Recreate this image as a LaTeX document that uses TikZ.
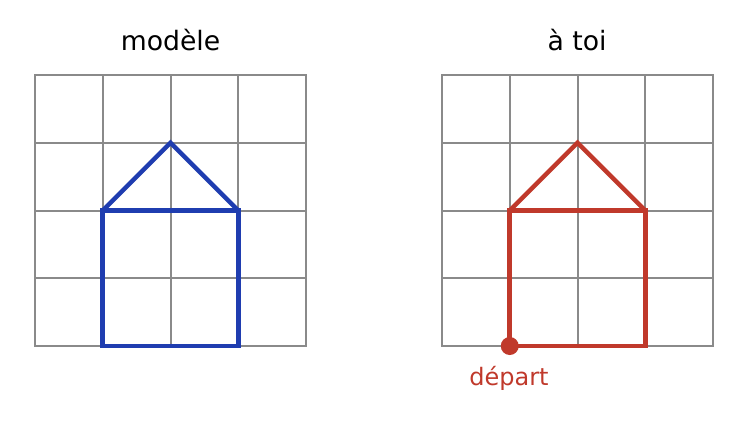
\documentclass[tikz,border=0pt]{standalone}
\usepackage{fontspec}
\setmainfont{DejaVu Sans}
\definecolor{gridgray}{HTML}{8A8A8A}
\definecolor{houseblue}{HTML}{1F3DB0}
\definecolor{housered}{HTML}{C0392B}
\begin{document}
\begin{tikzpicture}[x=0.75pt,y=-0.75pt,
  gridline/.style={draw=gridgray,line width=1.5pt,line cap=rect},
  bluehouse/.style={draw=houseblue,line width=3.4pt,line join=miter,line cap=butt},
  redhouse/.style={draw=housered,line width=3.4pt,line join=miter,line cap=butt},
  title/.style={font=\fontsize{20}{24}\selectfont,text=black},
  lbl/.style={font=\fontsize{18}{22}\selectfont,text=housered}]
\useasboundingbox (0,0) rectangle (747,422);
% grids
\foreach \ox in {35,442}{
  \foreach \i in {0,...,4}{
    \draw[gridline] (\ox+\i*67.75,75) -- (\ox+\i*67.75,346);
    \draw[gridline] (\ox,75+\i*67.75) -- (\ox+271,75+\i*67.75);
  }
}
% left house
\coordinate (la) at (102.75,346);
\coordinate (lb) at (238.25,346);
\coordinate (lc) at (238.25,210.5);
\coordinate (ld) at (102.75,210.5);
\coordinate (le) at (170.5,142.75);
\draw[bluehouse] (la) -- (lb) -- (lc) -- (ld) -- cycle;
\draw[bluehouse] (ld) -- (le) -- (lc);
% right house
\coordinate (ra) at (509.75,346);
\coordinate (rb) at (645.25,346);
\coordinate (rc) at (645.25,210.5);
\coordinate (rd) at (509.75,210.5);
\coordinate (re) at (577.5,142.75);
\draw[redhouse] (ra) -- (rb) -- (rc) -- (rd) -- cycle;
\draw[redhouse] (rd) -- (re) -- (rc);
\fill[housered] (ra) circle (9);
% labels
\node[title] (t1) at (170.5,40) {modèle};
\node[title] (t2) at (577,40) {à toi};
\node[lbl] (dep) at (509,378) {départ};
\end{tikzpicture}
\end{document}
